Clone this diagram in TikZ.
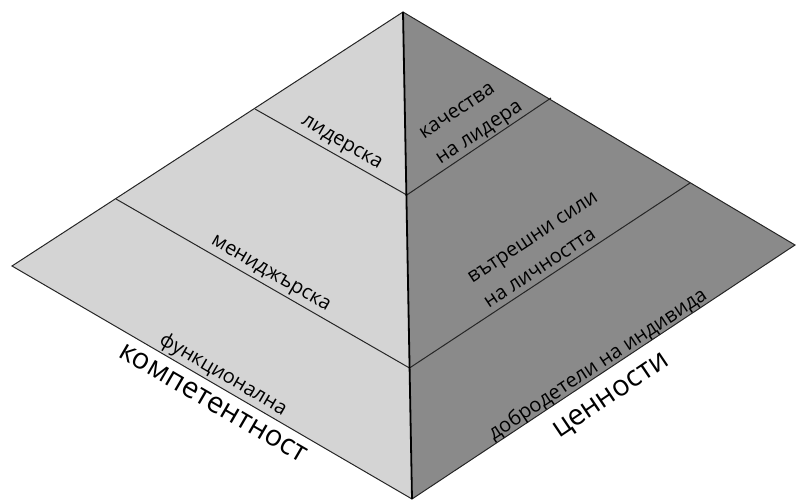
\documentclass[tikz,border=0pt]{standalone}
\usepackage{fontspec}
\setmainfont{Open Sans}
\begin{document}
\begin{tikzpicture}[x=1pt,y=-1pt,
  leftface/.style={fill=black!17},
  rightface/.style={fill=black!46},
  edge/.style={draw=black!85, line width=1pt},
  midline/.style={draw=black, line width=1.8pt},
  lbl/.style={font=\fontsize{20}{30}\selectfont, inner sep=0pt, align=left, text=black},
  big/.style={font=\fontsize{29}{34}\selectfont, inner sep=0pt, text=black}]
\useasboundingbox (0,0) rectangle (796,502);
\coordinate (A) at (403,12);
\coordinate (L) at (12,266);
\coordinate (R) at (795,245);
\coordinate (B) at (412,499);
\coordinate (P1) at (406.8,195);
\coordinate (P2) at (409.5,368);
\coordinate (L1) at (255,109);
\coordinate (L2) at (116,199);
\coordinate (R1) at (551,98);
\coordinate (R2) at (690,183);
\fill[leftface] (A) -- (L) -- (B) -- cycle;
\fill[rightface] (A) -- (R) -- (B) -- cycle;
\draw[edge] (L1) -- (P1) -- (R1);
\draw[edge] (L2) -- (P2) -- (R2);
\draw[edge, line join=miter] (A) -- (L) -- (B) -- (R) -- cycle;
\draw[midline] (A) -- (B);
\node[lbl, rotate=-30.2] (lid) at (341,144) {лидерска};
\node[lbl, rotate=-30.2] (men) at (270,275) {мениджърска};
\node[lbl, rotate=-30.2] (fun) at (223,375) {функционална};
\node[big, rotate=-30.2] (komp) at (213,403) {компетентност};
\node[lbl, rotate=33.5] (kach) at (472,122) {качества\\на лидера};
\node[lbl, rotate=33.5] (vat) at (541,250) {вътрешни сили\\на личността};
\node[lbl, rotate=33.5] (dob) at (598,365) {добродетели на индивида};
\node[big, rotate=34] (cen) at (612,397) {ценности};
\end{tikzpicture}
\end{document}
